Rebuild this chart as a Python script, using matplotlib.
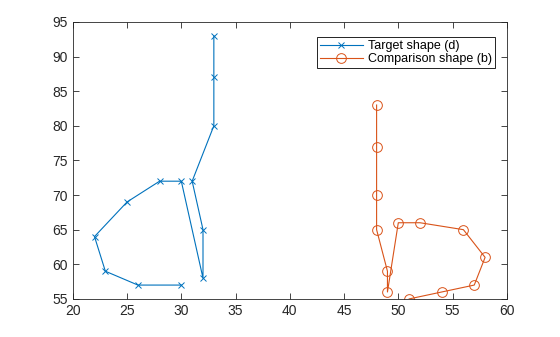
import matplotlib.pyplot as plt
import numpy as np

plt.rcParams['font.family'] = ['Liberation Sans', 'DejaVu Sans']

# target shape (d)
target_x = [33, 33, 33, 31, 32, 32, 30, 28, 25, 22, 23, 26, 30]
target_y = [93, 87, 80, 72, 65, 58, 72, 72, 69, 64, 59, 57, 57]
# comparison shape (b)
comp_x = [48, 48, 48, 48, 49, 49, 50, 52, 56, 58, 57, 54, 51]
comp_y = [83, 77, 70, 65, 59, 56, 66, 66, 65, 61, 57, 56, 55]

x_ticks = np.arange(20, 61, 5)
y_ticks = np.arange(55, 96, 5)

blue = (0, 0.447, 0.741)
orange = (0.85, 0.325, 0.098)
axcol = (0.15, 0.15, 0.15)

fig = plt.figure(figsize=(5.6, 3.37), dpi=100)
ax = fig.add_axes([0.13, 0.113, 0.775, 0.822])
ax.plot(target_x, target_y, '-x', color=blue, lw=0.8, ms=5, mew=0.7,
        label='Target shape (d)')
ax.plot(comp_x, comp_y, '-o', color=orange, lw=0.8, ms=7, mew=0.7,
        mfc='none', label='Comparison shape (b)')

ax.set_xlim(20, 60)
ax.set_ylim(55, 95)
ax.set_xticks(x_ticks)
ax.set_yticks(y_ticks)
ax.tick_params(direction='in', top=True, right=True, length=4,
               width=0.6, colors=axcol, labelsize=10, labelcolor=axcol)
for s in ax.spines.values():
    s.set_color(axcol)
    s.set_linewidth(0.6)

leg = ax.legend(loc='upper right', bbox_to_anchor=(0.972, 0.946),
                fontsize=9, fancybox=False, framealpha=1,
                edgecolor='black', borderpad=0.25, labelspacing=0.1,
                handlelength=3.4, handletextpad=0.4, borderaxespad=0)
leg.get_frame().set_linewidth(0.6)

fig.savefig('out.png', dpi=100)
